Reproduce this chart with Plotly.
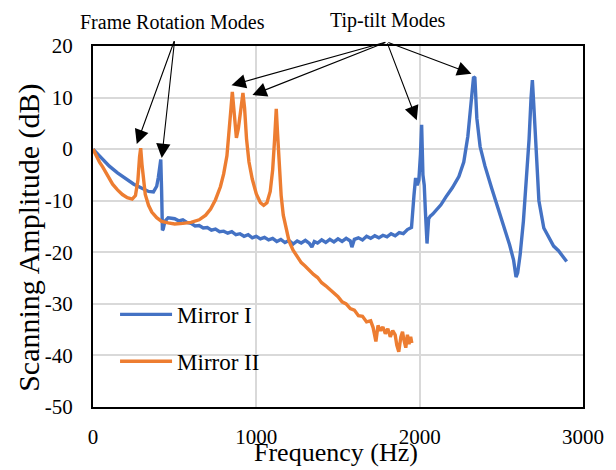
import plotly.graph_objects as go

# Mirror I (blue)
freq_m1 = [0, 30, 60, 100, 150, 200, 250, 300, 340, 370, 390, 400, 410, 415, 420, 425, 430, 440, 460, 480,
           500, 525, 550, 575, 600, 625, 650, 675, 700, 725, 750, 775, 800, 825, 850, 875, 900, 925, 950,
           975, 1000, 1025, 1050, 1075, 1100, 1125, 1150, 1175, 1200, 1225, 1250, 1275, 1300, 1325, 1340,
           1355, 1375, 1400, 1425, 1450, 1475, 1500, 1525, 1550, 1575, 1585, 1600, 1625, 1650, 1675, 1700,
           1725, 1750, 1775, 1800, 1825, 1850, 1875, 1900, 1925, 1950,
           1965, 1975, 1985, 1995, 2005, 2012, 2020, 2028, 2035, 2045, 2055, 2065, 2080, 2100, 2130, 2160,
           2200, 2240, 2270, 2295, 2315, 2330, 2338, 2350, 2370, 2400, 2440, 2480, 2520, 2550, 2575, 2590,
           2600, 2615, 2635, 2655, 2670, 2682, 2690, 2698, 2710, 2730, 2760, 2790, 2820, 2850, 2880, 2900]
amp_m1 = [0, -1.0, -2.0, -3.3, -4.6, -5.8, -6.8, -7.6, -8.2, -8.3, -7.2, -5.5, -2.5, -2.0, -8.0, -15.7,
          -15.5, -14.0, -13.3, -13.4,
          -13.5, -13.9, -13.7, -14.2, -14.4, -14.9, -14.8, -15.3, -15.2, -15.7, -15.5, -16.0, -15.9, -16.3,
          -16.0, -16.6, -16.4, -16.9, -16.6, -17.2, -16.9, -17.4, -17.1, -17.6, -17.3, -17.9, -17.5, -18.1,
          -17.7, -18.4, -17.8, -18.2, -17.7, -18.3, -19.0, -17.9, -18.2, -17.6, -18.1, -17.5, -18.0, -17.4,
          -17.9, -17.3, -17.8, -19.0, -17.5, -17.2, -17.6, -16.9, -17.3, -16.8, -17.2, -16.7, -17.0, -16.4,
          -16.8, -16.2, -16.4, -15.6, -15.2,
          -9.0, -5.6, -7.0, -6.0, -1.0,
          4.7, -5.0, -7.0, -12.0, -18.3, -13.5, -13.0, -12.6, -11.8, -10.8, -9.3, -7.5, -5.3, -2.5, 2.5, 9.0,
          14.0, 13.8, 6.0, 0.5, -3.3, -7.5, -11.5, -15.0, -18.5, -21.5, -24.8, -24.0, -20.5, -14.0, -6.0,
          2.0, 10.0, 13.4, 9.0, 0.5, -10.0, -15.3, -17.0, -18.8, -19.7, -21.0, -21.8]

# Mirror II (orange)
freq_m2 = [0, 20, 40, 60, 90, 120, 150, 180, 210, 240, 260, 275, 285, 292, 300, 310, 320, 340, 360, 390,
           420, 460, 500, 550, 600, 650, 690, 720, 750, 780, 800, 820, 835, 845, 853, 862, 870, 878, 890,
           905, 918, 928, 940, 955, 975, 1000, 1025, 1045, 1065, 1085, 1100, 1112, 1122, 1130, 1140, 1152,
           1165, 1180, 1200, 1225, 1250, 1275, 1300, 1325, 1350, 1375, 1400, 1425, 1450, 1475, 1500, 1525,
           1550, 1575, 1600, 1625, 1650, 1675, 1700, 1715, 1732, 1745, 1760, 1775, 1790, 1805, 1820, 1835,
           1850, 1860, 1872, 1885, 1895, 1905, 1915, 1925, 1935, 1945, 1952]
amp_m2 = [0, -1.3, -2.5, -3.5, -5.2, -6.8, -7.9, -8.8, -9.4, -9.7, -9.0, -6.0, -1.5, 0.2, -3.0, -6.5,
          -8.8, -10.9, -12.2, -13.3, -14.0, -14.3, -14.5, -14.4, -14.2, -13.7, -12.8, -11.6, -9.8, -7.3,
          -4.8, -1.3, 3.5, 8.0, 11.1, 8.0, 3.5, 2.2, 4.0, 8.5, 10.9, 8.0, 2.0, -2.5, -5.8, -8.7, -10.4,
          -10.9, -10.4, -8.2, -4.0, 2.0, 7.8, 3.0, -4.0, -9.0, -12.8, -15.3,
          -17.8, -19.6, -20.9, -22.0, -22.7, -23.6, -24.3, -24.9, -25.9, -26.5, -27.2, -28.0, -28.6, -29.6,
          -30.0, -30.9, -31.2, -32.3, -32.4, -33.5, -33.3, -34.6, -37.3, -34.2, -35.2, -34.5, -35.8, -34.8,
          -36.4, -35.2, -36.0, -38.0, -39.3, -36.4, -35.4, -37.2, -38.5, -36.0, -37.8, -36.4, -37.6]

x_ticks = [0, 1000, 2000, 3000]
x_ticktext = ["0", "1000", "2000", "3000"]
y_ticks = [20, 10, 0, -10, -20, -30, -40, -50]
y_ticktext = ["20", "10", "0", "-10", "-20", "-30", "-40", "-50"]

BLUE = "#4472C4"
ORANGE = "#ED7D31"
FONT = "Liberation Serif"

fig = go.Figure()
fig.add_trace(go.Scatter(x=freq_m1, y=amp_m1, mode="lines", name="Mirror I", legendgroup="a",
                         line=dict(color=BLUE, width=3.4)))
fig.add_trace(go.Scatter(x=freq_m2, y=amp_m2, mode="lines", name="Mirror II", legendgroup="b",
                         line=dict(color=ORANGE, width=3.4)))

axis_common = dict(showline=True, linecolor="black", linewidth=2, mirror=True,
                   showgrid=True, gridcolor="#D9D9D9", gridwidth=1.5, zeroline=False,
                   tickfont=dict(family=FONT, size=21, color="black"),
                   ticks="outside", tickcolor="rgba(0,0,0,0)")
fig.update_xaxes(range=[0, 3000], tickvals=x_ticks, ticktext=x_ticktext, ticklen=10, **axis_common)
fig.update_yaxes(range=[-50, 20], tickvals=y_ticks, ticktext=y_ticktext, ticklen=14, **axis_common)

annotations = [
    dict(text="Frequency (Hz)", x=0.495, y=-0.08, xref="paper", yref="paper", xanchor="center",
         yanchor="top", showarrow=False, font=dict(family=FONT, size=26, color="black")),
    dict(text="Scanning Amplitude (dB)", x=-0.131, y=0.468, xref="paper", yref="paper", textangle=-90,
         xanchor="center", yanchor="middle", showarrow=False,
         font=dict(family=FONT, size=30, color="black")),
    dict(text="Frame Rotation Modes", x=0.163, y=1.066, xref="paper", yref="paper", showarrow=False,
         xanchor="center", yanchor="middle", font=dict(family=FONT, size=20, color="black")),
    dict(text="Tip-tilt Modes", x=0.602, y=1.072, xref="paper", yref="paper", showarrow=False,
         xanchor="center", yanchor="middle", font=dict(family=FONT, size=20, color="black")),
]
arrows = [
    (500, 21.2, 268, 1.0),
    (500, 21.2, 421, -1.7),
    (1799, 20.8, 848, 12.4),
    (1799, 20.8, 976, 10.5),
    (1799, 20.8, 1982, 5.6),
    (1799, 20.8, 2317, 14.6),
]
for ax_, ay_, hx, hy in arrows:
    annotations.append(dict(text="", x=hx, y=hy, ax=ax_, ay=ay_, xref="x", yref="y", axref="x", ayref="y",
                            showarrow=True, arrowhead=2, arrowsize=2.6, arrowwidth=1.1, arrowcolor="black"))

fig.update_layout(
    width=616, height=470,
    margin=dict(l=93, r=31, t=46, b=63),
    paper_bgcolor="white", plot_bgcolor="white",
    showlegend=True,
    legend=dict(x=0.045, y=0.316, xanchor="left", yanchor="top", bgcolor="rgba(0,0,0,0)",
                font=dict(family=FONT, size=23, color="black"), itemwidth=52,
                traceorder="grouped", tracegroupgap=14),
    annotations=annotations,
)

fig.write_html("out.html")
